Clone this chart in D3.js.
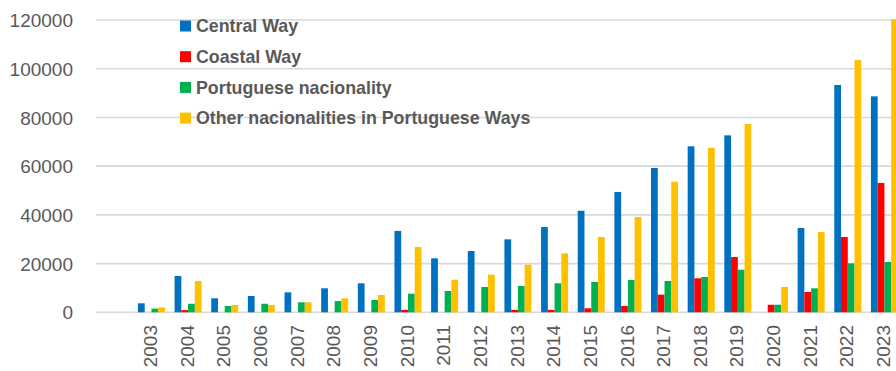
<!DOCTYPE html>
<html>
<head>
<meta charset="utf-8">
<script src="https://cdn.jsdelivr.net/npm/d3@7"></script>
<style>
  html, body { margin: 0; padding: 0; background: #fff; }
  svg { display: block; }
  text { font-family: "Liberation Sans", Arial, sans-serif; }
</style>
</head>
<body>
<svg id="chart" width="896" height="371"></svg>
<script>
const years = ["2003","2004","2005","2006","2007","2008","2009","2010","2011","2012","2013","2014","2015","2016","2017","2018","2019","2020","2021","2022","2023"];
const seriesNames = ["Central Way","Coastal Way","Portuguese nacionality","Other nacionalities in Portuguese Ways"];
const seriesColors = ["#0070C0","#FF0000","#00B050","#FFC000"];
const centralWay   = [3700,14900,5750,6700,8200,9850,11900,33400,22150,25150,29950,35000,41700,49400,59250,68150,72650,0,34600,93300,88650];
const coastalWay   = [0,900,0,0,0,0,0,1000,0,0,1000,1000,1650,2600,7250,13950,22700,3100,8350,30900,53100];
const portuguese   = [1500,3500,2600,3500,4100,4600,5050,7650,8750,10400,10800,11900,12450,13300,12850,14500,17500,3100,9850,20100,20650];
const otherNations = [2000,12850,3000,3000,4100,5750,7100,26800,13400,15450,19550,24200,30900,39100,53600,67550,77300,10400,32950,103550,120300];
const yTicks = [0,20000,40000,60000,80000,100000,120000];

const seriesValues = [centralWay, coastalWay, portuguese, otherNations];

const svg = d3.select("#chart");

const gridLeft = 96, gridRight = 896;
const y = d3.scaleLinear().domain([0,120000]).range([312.3, 20]);
const x = d3.scaleBand().domain(years).range([133.1, 902.75]).paddingInner(0.2633).paddingOuter(0.13165);
const xs = d3.scaleBand().domain(d3.range(seriesNames.length)).range([0, x.bandwidth()]);

// gridlines
svg.append("g").selectAll("line").data(yTicks).join("line")
  .attr("x1", gridLeft).attr("x2", gridRight)
  .attr("y1", d => y(d)).attr("y2", d => y(d))
  .attr("stroke", "#D9D9D9").attr("stroke-width", 1.6);

// y axis labels
const yAxis = d3.axisLeft(y).tickValues(yTicks).tickSize(0).tickPadding(0).tickFormat(d3.format("d"));
const yg = svg.append("g").attr("transform", "translate(73,0)").call(yAxis);
yg.select(".domain").remove();
yg.selectAll("text").attr("fill", "#595959").style("font-size", "19px").attr("dy", "0.35em")
  .style("font-family", "'Liberation Sans', Arial, sans-serif");

// bars
const groups = svg.append("g").selectAll("g").data(years).join("g")
  .attr("transform", d => `translate(${x(d)},0)`);
groups.selectAll("rect").data((d, i) => seriesValues.map((s, k) => ({k, v: s[i]})))
  .join("rect")
  .filter(d => d.v > 0)
  .attr("x", d => xs(d.k))
  .attr("width", xs.bandwidth())
  .attr("y", d => y(d.v))
  .attr("height", d => y(0) - y(d.v))
  .attr("fill", d => seriesColors[d.k]);

// x labels (rotated)
svg.append("g").selectAll("text").data(years).join("text")
  .attr("transform", d => `translate(${x(d) + x.bandwidth()/2 - 1},325) rotate(-90)`)
  .attr("text-anchor", "end")
  .attr("dy", "0.35em")
  .attr("fill", "#595959")
  .style("font-size", "19px")
  .text(d => d);

// legend
const legend = svg.append("g").selectAll("g").data(seriesNames).join("g")
  .attr("transform", (d, i) => `translate(180,${26 + i * 30.7})`);
legend.append("rect").attr("x", 0).attr("y", -5.5).attr("width", 11).attr("height", 11)
  .attr("fill", (d, i) => seriesColors[i]);
legend.append("text").attr("x", 16).attr("dy", "0.35em")
  .attr("fill", "#595959").style("font-size", "17.8px").style("font-weight", "bold")
  .text(d => d);
</script>
</body>
</html>
